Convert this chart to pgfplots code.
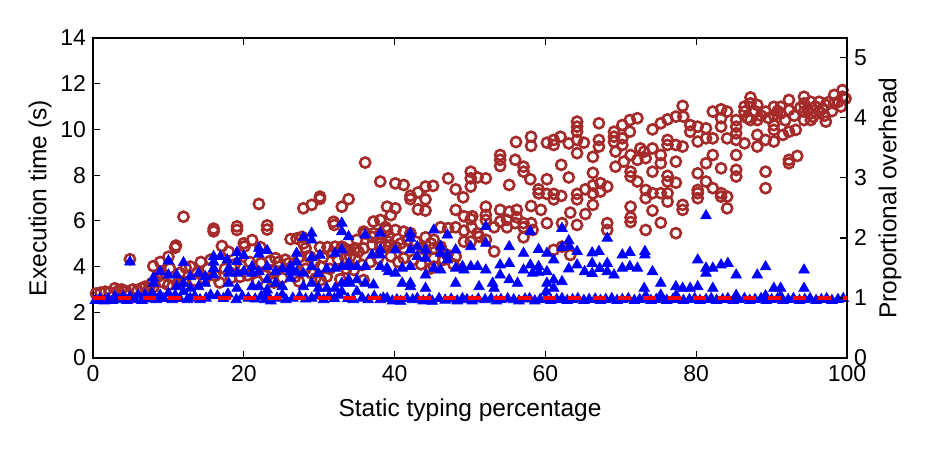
\documentclass[border=0pt]{standalone}
\usepackage{fontspec}
\setmainfont{Liberation Sans}
\usepackage{pgfplots}
\pgfplotsset{compat=1.18}
\definecolor{circbrown}{RGB}{165,42,42}
\definecolor{tripblue}{RGB}{0,0,255}

\begin{document}
\begin{tikzpicture}
\pgfplotsset{
  timeaxis/.style={
    scale only axis, width=377pt, height=160pt,
    at={(0,0)}, anchor=south west,
    xmin=0, xmax=100,
    tick align=inside,
    major tick length=3.5pt,
    axis line style={line width=0.8pt},
    every tick/.style={black, line width=0.6pt},
    tick label style={font=\fontsize{11.5}{13}\selectfont},
    label style={font=\fontsize{12.25}{14}\selectfont},
    /pgf/number format/assume math mode=true,
  }
}
% execution time of every configuration (s)
\begin{axis}[timeaxis,
  ymin=0, ymax=14,
  xtick={0,20,...,100}, ytick={0,2,...,14},
  xtick pos=both, ytick pos=left,
  xlabel={Static typing percentage},
  ylabel={Execution time (s)},
  xlabel style={at={(axis description cs:0.5,-0.164)}, anchor=center},
  ylabel style={at={(axis description cs:-0.0703,0.5)}, anchor=center},
]
% unoptimised configurations
\addplot[only marks, mark=o, mark size=2.55pt, draw=circbrown, line width=1.3pt] coordinates {
(0.4,2.82) (1.0,2.86) (1.6,2.9) (2.2,2.88) (2.9,3.05) (3.4,2.95) (3.8,3.0) (4.4,2.92) (4.9,4.32) (5.3,3.0) (5.9,2.95) (6.4,3.05) (6.9,3.12) (7.4,3.02) (7.8,3.27) (8.0,4.02) (8.0,3.1)
(8.5,3.55) (8.9,4.2) (8.9,3.62) (9.1,3.72) (9.4,3.3) (10.0,4.43) (10.0,3.2) (10.2,3.92) (10.6,3.5) (10.9,4.83) (11.0,4.92) (11.2,3.25) (11.5,3.72) (12.0,6.18) (12.3,3.95) (12.0,3.35)
(12.9,4.0) (13.5,3.38) (13.8,3.72) (14.3,4.2) (14.8,3.42) (15.2,3.9) (15.6,4.3) (16.0,5.66) (16.0,5.54) (16.2,3.6) (16.8,3.3) (17.1,4.9) (17.5,3.9) (18.0,4.65) (18.3,3.5) (18.8,4.1) (19.1,5.76) (19.1,5.6) (19.5,3.55) (19.6,4.05) (20.0,5.02) (20.1,4.88)
(20.5,3.62) (20.8,4.2) (21.1,5.16) (21.5,3.75) (21.8,3.35) (22.0,6.74) (22.2,4.85) (22.3,4.15) (22.8,3.6) (23.1,5.8) (23.1,5.62) (23.5,4.25) (24.0,3.8) (24.0,3.3) (24.2,4.37) (24.6,4.2) (25.1,3.5) (25.5,4.3) (26.0,4.15)
(26.2,5.2) (26.6,4.0) (26.8,3.55) (27.0,5.23) (27.3,4.4) (27.3,3.35) (27.7,5.3) (27.9,6.55) (27.9,5.01) (28.2,3.9) (28.2,4.8) (28.5,4.45) (28.8,4.43) (29.0,6.7) (29.0,3.7) (29.4,4.2) (29.5,3.48) (30.1,7.06) (30.1,6.96) (30.1,4.85) (30.2,4.0) (30.2,3.41) (30.5,4.4) (31.0,3.56) (31.1,4.85) (31.4,3.9) (31.8,4.6) (31.9,5.96) (32.0,5.82) (32.1,4.87) (32.5,4.3) (32.8,3.45) (33.0,6.62) (33.0,4.87) (33.3,4.8) (33.5,4.36) (33.6,3.9) (33.9,6.95)
(33.7,4.73) (34.1,4.72) (34.1,4.44) (34.6,3.85) (34.8,4.36) (34.8,4.8) (35.0,5.17) (35.2,4.65) (35.7,4.07) (35.9,5.53) (35.9,4.8) (35.9,3.41) (36.1,8.55) (36.1,5.45) (36.8,4.2) (37.0,5.3) (37.0,4.94) (37.2,5.97) (37.2,5.46) (37.8,4.35) (38.1,7.72) (38.1,6.04) (38.1,5.45) (38.1,5.01) (38.1,4.87) (38.8,5.72) (38.8,4.94) (39.0,6.62) (39.0,5.6) (39.2,5.34) (39.2,5.09) (39.2,4.87) (39.5,6.25) (39.5,4.45)
(40.1,7.64) (40.1,6.55) (40.1,5.6) (40.1,4.87) (40.5,4.2) (40.8,5.01) (41.2,7.57) (41.2,5.53) (41.2,4.8) (41.2,4.36) (41.7,5.16) (42.1,7.1) (42.1,6.95) (42.1,5.46) (42.5,4.3) (42.8,5.09) (43.1,6.5) (43.1,7.24) (43.5,4.1) (43.7,4.8) (44.1,7.5) (44.1,6.94) (44.1,6.45) (44.1,5.28) (44.1,4.73) (44.8,5.01) (44.8,3.92) (45.1,7.53) (45.2,5.17) (45.2,4.8) (45.2,4.36) (45.2,4.0)
(46.1,5.72) (46.1,4.87) (46.5,4.3) (47.0,4.51) (47.1,7.86) (47.1,5.68) (47.8,4.1) (48.1,7.38) (48.1,6.48) (48.1,5.72) (48.1,4.44) (49.1,7.03) (49.2,6.2) (49.2,5.57) (49.2,5.09) (50.1,8.15) (50.1,7.86) (50.1,7.5) (50.3,6.2) (50.1,6.07) (50.2,5.72) (50.1,5.09) (51.0,7.9) (51.0,5.46) (51.2,5.31) (52.1,7.86) (52.1,6.62) (52.1,6.26) (52.1,6.04) (52.1,5.17) (53.2,5.72) (53.2,4.66) (54.0,8.88) (54.0,8.67) (54.0,8.4) (54.0,6.48) (54.0,5.97) (54.9,6.04) (54.9,5.72) (55.2,7.57) (55.2,6.4)
(56.1,9.45) (56.0,8.67) (56.2,6.48) (56.2,6.16) (56.0,5.9) (57.1,8.37) (57.1,8.15) (57.1,5.9) (57.1,5.72) (57.1,5.28) (58.0,7.82) (58.1,9.68) (58.1,9.28) (58.1,6.65) (58.1,5.9) (58.3,5.6) (59.1,7.38) (59.1,7.2) (59.4,6.48) (60.2,9.42) (60.2,7.82) (60.2,7.18) (60.2,5.9) (61.1,9.54) (61.1,9.32) (61.1,7.18) (61.1,6.94) (61.1,4.73) (62.0,9.68) (62.1,8.45) (62.1,7.09) (62.2,5.9) (62.2,4.87) (63.1,9.39) (63.1,7.9) (63.3,6.36) (63.3,4.51) (64.2,10.34) (64.2,10.12) (64.2,9.9) (64.2,9.54) (64.2,8.96) (64.2,7.18) (64.2,6.94) (64.2,5.82) (65.1,9.42) (65.3,7.38) (65.3,6.3) (66.3,8.8) (66.3,8.1) (66.3,7.55) (66.3,7.2) (66.3,6.7) (67.1,10.27) (67.1,9.54) (67.1,9.25) (67.3,7.65) (67.3,7.28)
(68.2,7.5) (68.2,5.9) (68.2,5.6) (69.1,9.9) (69.1,9.68) (69.1,9.46) (69.3,9.03) (69.3,8.37) (70.2,10.19) (70.2,9.61) (70.2,9.32) (70.4,8.59) (71.2,10.41) (71.2,9.9) (71.3,8.88) (71.3,8.15) (71.3,7.94) (71.3,6.62) (71.3,6.15) (71.3,5.95) (72.2,10.49) (72.2,8.67) (72.2,7.72) (72.6,9.17) (73.1,9.03) (73.3,8.74) (73.3,7.35) (73.3,6.99) (73.3,5.6) (74.2,10.0) (74.2,9.17) (74.2,8.15) (74.2,7.21) (74.2,6.45) (75.3,10.27) (75.3,8.88) (75.3,8.52) (75.3,7.21) (75.3,5.92) (76.2,10.44) (76.2,9.54) (76.2,9.32) (76.2,7.97) (76.2,7.72) (76.2,7.21) (76.2,6.84) (77.3,10.56) (77.3,9.32) (77.3,8.59) (77.3,7.67) (77.3,5.46) (78.2,11.03) (78.3,10.56) (78.2,9.25) (78.2,6.7) (78.2,6.48) (79.2,10.19) (79.2,9.9)
(80.2,10.12) (80.2,9.47) (80.2,8.08) (80.2,7.35) (80.2,7.21) (80.2,6.99) (81.3,10.05) (81.3,9.61) (81.3,8.52) (81.3,7.72) (82.2,10.78) (82.2,9.61) (82.2,8.88) (82.2,7.43) (83.3,10.88) (83.3,10.49) (83.3,10.12) (83.3,8.3) (83.3,7.21) (83.3,7.06) (84.1,10.78) (84.1,9.61) (84.1,7.06) (84.1,6.55) (85.3,10.41) (85.3,10.12) (85.3,9.83) (85.3,9.54) (85.3,8.88) (85.3,8.23) (85.3,7.94) (86.4,11.0) (86.4,10.78) (86.4,9.39) (86.8,10.5) (87.2,11.4) (87.2,11.14) (87.2,10.41) (87.8,10.8) (88.1,11.07) (88.1,10.41) (88.1,9.76) (88.1,9.25) (88.6,10.6) (89.2,10.78) (89.2,9.54) (89.2,8.15) (89.2,7.43) (89.6,10.5) (90.3,10.99) (90.3,10.63) (90.3,10.19) (90.3,9.98) (90.3,9.47) (90.8,10.8) (91.2,10.99) (91.2,10.7) (91.5,9.76) (91.8,10.4) (92.3,11.29) (92.3,10.85) (92.3,9.9) (92.3,8.67) (92.3,8.52) (93.0,10.6) (93.2,9.98) (93.4,8.84) (93.8,10.95) (94.3,11.43) (94.3,11.14) (94.3,10.78) (94.3,10.41) (94.8,10.85) (95.2,11.21) (95.2,10.7) (95.2,10.41) (95.5,10.55) (95.8,11.0) (96.3,11.21) (96.3,10.78) (96.8,10.9) (97.0,10.6) (97.2,11.07) (97.2,10.34) (97.6,11.2) (98.0,10.8) (98.3,11.51) (98.3,11.14) (98.8,11.2) (99.2,11.0) (99.4,11.72) (99.4,11.43) (99.8,11.35)
};
% optimised configurations
\addplot[only marks, mark=triangle*, mark size=3pt, draw=tripblue, fill=tripblue, line width=0.4pt] coordinates {
(0.3,2.52) (0.9,2.6) (1.5,2.5) (2.0,2.6) (2.6,2.52) (2.9,2.68) (3.4,2.55) (4.0,2.68) (4.5,2.52) (4.9,2.68) (5.5,2.55) (6.0,2.75) (6.5,2.52) (6.9,2.75) (7.4,2.58) (7.8,2.83) (8.4,2.55) (8.9,2.75) (9.4,2.6) (10.0,2.83) (10.5,2.55) (10.9,2.75) (11.5,2.6) (12.0,2.9) (12.5,2.55) (12.9,2.61) (13.5,2.7) (14.2,2.55)
(15.0,2.62) (15.6,2.75) (16.5,2.72) (17.3,2.6) (17.9,2.8) (19.0,2.55) (19.8,2.7) (20.6,2.62) (21.5,2.58) (22.3,2.7) (22.8,2.55) (23.1,2.76) (23.6,2.5) (24.4,2.62) (25.1,2.76) (25.6,2.55) (26.5,2.62) (27.4,2.7) (28.2,2.58) (29.0,2.62) (29.8,2.72) (30.6,2.55) (31.3,2.7) (32.0,2.6) (32.6,2.75) (33.0,2.9) (33.8,2.6) (34.5,2.55) (35.0,2.9) (35.7,2.62) (36.5,2.55) (37.3,2.7) (38.1,2.55) (38.5,2.62) (39.0,2.61) (39.7,2.5)
(40.3,2.55) (40.8,2.48) (41.6,2.6) (42.4,2.55) (43.0,2.61) (43.8,2.5) (44.6,2.58) (45.0,2.48) (45.9,2.6) (46.7,2.53) (47.5,2.58) (48.3,2.5) (49.0,2.6) (49.6,2.55) (50.3,2.5) (51.1,2.58) (52.0,2.55) (52.8,2.6) (53.5,2.5) (54.1,2.56) (55.0,2.6) (55.8,2.55) (56.5,2.5) (57.3,2.58) (57.9,2.6) (58.6,2.5) (59.3,2.56) (60.0,2.6) (60.7,2.52) (61.5,2.56) (62.2,2.6) (62.9,2.52) (63.6,2.56) (64.3,2.6) (65.1,2.52) (65.8,2.56) (66.6,2.58) (67.3,2.52) (68.0,2.56) (68.8,2.6) (69.5,2.52) (70.2,2.56) (71.0,2.6) (71.8,2.52) (72.5,2.56) (73.2,2.6) (74.0,2.52) (74.7,2.56) (75.4,2.62) (76.1,2.52) (76.9,2.56) (77.6,2.6) (78.3,2.52) (79.1,2.56) (79.8,2.6) (80.5,2.52) (81.3,2.56) (82.0,2.6) (82.7,2.52) (83.5,2.56) (84.2,2.6) (84.9,2.52) (85.6,2.56) (86.4,2.6) (87.1,2.52) (87.8,2.56) (88.6,2.6) (89.3,2.52) (90.0,2.56) (90.8,2.6) (91.5,2.52) (92.2,2.56) (92.9,2.6) (93.7,2.52) (94.4,2.56) (95.1,2.6) (95.9,2.52) (96.6,2.56) (97.3,2.6) (98.0,2.52) (98.8,2.56) (99.5,2.6)
(73.3,2.72) (75.3,2.75) (77.3,2.72) (85.3,2.74) (89.2,2.72) (91.2,2.7)
(4.9,4.2) (8.0,3.27) (8.0,3.5) (8.9,3.78) (10.0,3.63) (11.1,3.63) (10.0,4.25) (12.0,4.17) (11.1,3.12) (12.0,3.27)
(12.9,3.56) (12.9,3.05) (14.0,3.71) (14.9,3.56) (14.0,3.12) (14.9,3.27) (16.0,4.44) (16.0,4.2) (16.0,3.92) (16.0,3.63) (16.9,4.44) (17.8,4.29) (18.0,3.92) (18.0,3.71) (18.0,3.27) (19.1,4.62) (19.1,4.22) (19.1,3.71) (19.1,3.05) (20.0,4.47) (20.0,3.78)
(21.1,3.71) (21.1,4.0) (21.1,3.12) (22.0,4.8) (22.0,4.54) (22.0,3.78) (22.0,3.12) (23.1,4.7) (23.1,4.0) (23.1,3.42) (23.1,2.98) (24.2,3.78) (24.2,3.27) (25.1,3.9) (25.1,3.12) (26.2,4.0) (26.2,3.78) (26.2,3.49) (27.0,4.58) (27.0,4.2) (27.0,3.75) (27.9,5.28) (27.9,3.71) (27.9,3.12) (29.0,5.46) (29.0,5.16) (29.0,4.4) (29.0,4.0) (29.0,3.27) (30.1,4.5) (29.9,3.7) (29.9,3.05) (31.0,3.9) (31.0,3.05) (32.1,4.58) (32.1,3.93) (32.1,3.05) (33.0,5.9) (33.0,5.53) (33.0,4.73) (33.0,4.0) (33.0,3.27) (33.9,5.31) (33.9,4.14) (33.9,3.42) (34.1,4.0) (34.1,3.27)
(35.0,4.0) (35.0,3.42) (36.1,5.38) (36.1,4.0) (36.1,3.27) (37.0,4.51) (37.2,3.2) (38.1,5.46) (38.1,4.73) (38.1,4.51) (38.1,4.0) (39.0,3.93) (39.2,3.78) (40.1,4.73) (40.1,3.71) (41.0,3.93) (41.0,3.27) (42.1,5.46) (42.1,5.24) (42.1,4.73) (42.1,4.0) (42.1,3.27) (42.1,3.12) (43.0,4.87) (43.0,4.44) (44.1,4.73) (44.1,4.36) (44.1,3.63) (44.1,3.05) (45.2,5.6) (45.2,3.93)
(46.1,4.87) (46.1,4.58) (46.1,3.85) (47.0,5.38) (47.0,4.51) (47.0,4.29) (48.1,4.73) (48.1,3.93) (48.1,3.27) (49.0,4.0) (49.2,3.85) (50.1,4.87) (50.1,4.0) (51.0,4.0) (51.2,3.12) (52.1,5.75) (52.1,5.02) (52.1,3.85) (53.0,3.27) (53.2,3.05) (54.0,4.07) (54.0,3.63) (55.2,4.87) (55.2,4.14) (55.2,3.42) (56.3,3.27) (57.1,4.58) (57.1,3.85)
(58.0,5.53) (58.0,4.07) (58.3,3.71) (59.1,4.75) (59.1,4.0) (59.1,3.75) (60.2,4.58) (60.2,3.78) (60.2,3.27) (60.1,2.9) (61.1,4.29) (61.1,3.41) (61.1,3.05) (62.2,5.67) (62.2,4.84) (62.2,3.34) (63.1,5.13) (63.2,4.87) (63.1,3.9) (64.2,4.66) (64.2,4.07) (65.2,3.78) (66.2,4.6) (66.2,4.14) (66.2,3.7) (67.1,4.66) (67.2,3.92)
(68.2,5.24) (68.2,4.14) (68.2,3.78) (69.1,3.63) (70.2,4.51) (70.2,3.93) (71.2,4.62) (71.2,4.0) (72.2,3.93) (73.2,4.66) (73.2,4.51) (73.1,3.05) (74.2,3.78) (75.3,3.27) (77.3,3.12) (78.2,3.05) (79.2,3.05)
(80.2,4.29) (80.2,3.12) (81.3,6.22) (81.3,3.93) (81.3,3.71) (82.2,3.93) (82.2,3.05) (83.3,4.07) (84.2,4.14) (85.3,3.63) (88.1,3.63) (89.2,3.99) (90.3,3.05) (91.2,3.05) (94.3,3.85) (94.3,3.05)
};
\end{axis}
% overhead relative to the untyped baseline
\begin{axis}[timeaxis,
  ymin=0, ymax=5.33,
  axis x line=none, axis y line*=right,
  ytick={0,1,...,5},
  ylabel={Proportional overhead},
  ylabel style={at={(axis description cs:1.057,0.5)}, anchor=center},
]
\addplot[red, line width=2pt, dash pattern=on 6.5pt off 6pt] coordinates {(0,1) (100,1)};
\end{axis}
\pgfresetboundingbox
\path[use as bounding box] (-46.5pt,-46pt) rectangle (418.5pt,179pt);
\end{tikzpicture}
\end{document}
